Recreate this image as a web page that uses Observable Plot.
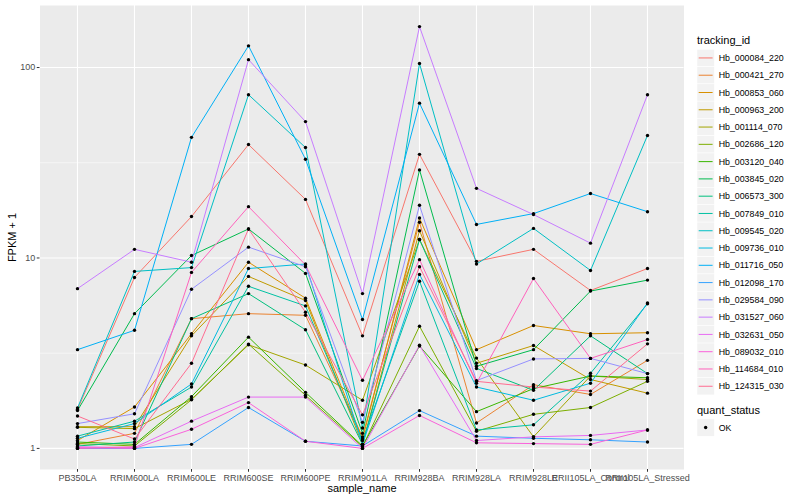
<!DOCTYPE html>
<html>
<head>
<meta charset="utf-8">
<script src="https://cdn.jsdelivr.net/npm/d3@7"></script>
<script src="https://cdn.jsdelivr.net/npm/@observablehq/plot@0.6"></script>
<style>
  html, body { margin: 0; padding: 0; background: white; }
  #wrap { position: relative; width: 800px; height: 500px; font-family: "Liberation Sans", Arial, sans-serif; }
  #chart { position: absolute; left: 0; top: 0; }
  #legend { position: absolute; left: 0; top: 0; }
</style>
</head>
<body>
<div id="wrap"><div id="chart"></div><svg id="legend" width="800" height="500"></svg></div>
<script>
const samples = ["PB350LA","RRIM600LA","RRIM600LE","RRIM600SE","RRIM600PE","RRIM901LA","RRIM928BA","RRIM928LA","RRIM928LE","RRII105LA_Control","RRII105LA_Stressed"];

const trackingIds = ["Hb_000084_220","Hb_000421_270","Hb_000853_060","Hb_000963_200","Hb_001114_070","Hb_002686_120","Hb_003120_040","Hb_003845_020","Hb_006573_300","Hb_007849_010","Hb_009545_020","Hb_009736_010","Hb_011716_050","Hb_012098_170","Hb_029584_090","Hb_031527_060","Hb_032631_050","Hb_089032_010","Hb_114684_010","Hb_124315_030"];

const colors = ["#F8766D","#EA8331","#D89000","#C09B00","#A3A500","#7CAE00","#39B600","#00BB4E","#00BF7D","#00C1A3","#00BFC4","#00BAE0","#00B0F6","#35A2FF","#9590FF","#C77CFF","#E76BF3","#FA62DB","#FF62BC","#FF6C91"];

// FPKM + 1 per tracking id, one value per sample (order of `samples`)
const v_000084_220 = [1.6, 7.9, 16.5, 39.4, 20.3, 3.9, 35, 9.6, 11.1, 6.75, 8.8];
const v_000421_270 = [1.05, 1.2, 4.8, 5.1, 5.0, 1.15, 15.4, 1.36, 2.16, 1.92, 2.9];
const v_000853_060 = [1.1, 1.65, 4.0, 9.5, 6.15, 1.12, 16.2, 3.3, 4.42, 4.0, 4.05];
const v_000963_200 = [1.3, 1.3, 3.9, 8.0, 5.98, 1.05, 13.9, 2.8, 3.47, 2.3, 1.95];
const v_001114_070 = [1.29, 1.27, 1.81, 3.5, 2.74, 1.79, 12.5, 2.98, 1.15, 2.4, 2.3];
const v_002686_120 = [1.06, 1.03, 1.8, 3.53, 1.9, 1.02, 4.38, 1.23, 1.51, 1.64, 2.25];
const v_003120_040 = [1.08, 1.05, 1.87, 3.84, 1.97, 1.03, 3.45, 1.56, 2.06, 2.4, 2.35];
const v_003845_020 = [1.58, 5.1, 10.3, 14.2, 8.3, 1.2, 29, 2.7, 3.3, 6.7, 7.65];
const v_006573_300 = [1.03, 1.08, 4.8, 6.5, 4.2, 1.05, 12.5, 2.63, 2.02, 3.9, 2.47];
const v_007849_010 = [1.16, 1.39, 2.10, 7.1, 5.6, 1.1, 7.55, 1.25, 1.33, 2.48, 5.75];
const v_009545_020 = [1.63, 8.5, 8.9, 72, 38, 1.28, 105, 9.3, 14.3, 8.6, 44];
const v_009736_010 = [1.13, 1.35, 2.18, 8.8, 9.3, 1.05, 8.2, 2.1, 1.79, 2.2, 5.8];
const v_011716_050 = [3.3, 4.17, 43, 130, 33, 4.75, 65, 15, 17.1, 21.8, 17.5];
const v_012098_170 = [1.0, 1.0, 1.05, 1.64, 1.09, 1.03, 1.58, 1.16, 1.13, 1.11, 1.08];
const v_029584_090 = [1.35, 1.52, 6.85, 11.4, 9.0, 1.37, 18.9, 2.27, 2.95, 2.97, 2.47];
const v_031527_060 = [6.9, 11.1, 9.5, 110, 52, 6.5, 164, 23.2, 16.9, 11.96, 72];
const v_032631_050 = [1.02, 1.01, 1.39, 1.86, 1.86, 1.0, 3.48, 1.1, 1.15, 1.17, 1.25];
const v_089032_010 = [1.01, 1.0, 1.26, 1.74, 1.09, 1.0, 1.49, 1.07, 1.06, 1.05, 1.25];
const v_114684_010 = [1.0, 1.02, 8.4, 18.6, 9.2, 2.28, 9.8, 2.2, 7.8, 2.97, 3.73];
const v_124315_030 = [1.48, 1.12, 2.8, 14.2, 5.19, 1.5, 9.0, 2.25, 2.1, 2.0, 3.54];

const seriesValues = [v_000084_220, v_000421_270, v_000853_060, v_000963_200, v_001114_070, v_002686_120, v_003120_040, v_003845_020, v_006573_300, v_007849_010, v_009545_020, v_009736_010, v_011716_050, v_012098_170, v_029584_090, v_031527_060, v_032631_050, v_089032_010, v_114684_010, v_124315_030];

const yTicks = [1, 10, 100];
const yMinor = [Math.sqrt(10), Math.sqrt(1000)];
const quantStatus = ["OK"];

const data = [];
trackingIds.forEach((id, i) => seriesValues[i].forEach((v, j) => data.push({tracking_id: id, sample_name: samples[j], fpkm: v, quant_status: "OK"})));

const font = '"Liberation Sans", Arial, sans-serif';

const chart = Plot.plot({
  width: 690, height: 500,
  marginLeft: 39.5, marginRight: 6.5, marginTop: 5, marginBottom: 31,
  style: {fontFamily: font, fontSize: "9px", background: "transparent", overflow: "visible"},
  x: {type: "point", domain: samples, padding: 0.6},
  y: {type: "log", domain: [0.7749, 211.7]},
  color: {domain: trackingIds, range: colors},
  marks: [
    Plot.frame({fill: "#EBEBEB", stroke: "none"}),
    Plot.gridY(yMinor, {stroke: "white", strokeOpacity: 1, strokeWidth: 0.55}),
    Plot.gridY(yTicks, {stroke: "white", strokeOpacity: 1, strokeWidth: 1.1}),
    Plot.gridX(samples, {stroke: "white", strokeOpacity: 1, strokeWidth: 1.1}),
    Plot.line(data, {x: "sample_name", y: "fpkm", z: "tracking_id", stroke: "tracking_id", strokeWidth: 1}),
    Plot.dot(data, {x: "sample_name", y: "fpkm", r: 1.7, fill: "black", stroke: "none"}),
    Plot.axisX(samples, {tickSize: 2.75, tickPadding: 2, stroke: "#333333", fill: "#4D4D4D", fontSize: 9, label: null}),
    Plot.axisY(yTicks, {tickSize: 2.75, tickPadding: 2, stroke: "#333333", fill: "#4D4D4D", fontSize: 9, tickFormat: d => String(d), label: null}),
    Plot.text(["FPKM + 1"], {text: d => d, frameAnchor: "left", dx: -28, rotate: -90, fontSize: 11, fill: "black", textAnchor: "middle"}),
    Plot.text(["sample_name"], {text: d => d, frameAnchor: "bottom", dy: 19, fontSize: 11, fill: "black", lineAnchor: "middle"})
  ]
});
document.getElementById("chart").appendChild(chart);

// Legend (built from the same ids/colors)
const lg = d3.select("#legend").style("font-family", font);
const lx = 697, keyW = 17.3, keyH = 17.28, firstTop = 49.3;
lg.append("text").attr("x", lx).attr("y", 44).attr("font-size", 11).attr("fill", "black").text("tracking_id");
trackingIds.forEach((id, i) => {
  const top = firstTop + i * keyH;
  lg.append("rect").attr("x", lx).attr("y", top).attr("width", keyW).attr("height", keyH).attr("fill", "#F2F2F2").attr("stroke", "white").attr("stroke-width", 0.5);
  lg.append("line").attr("x1", lx + 1.7).attr("x2", lx + keyW - 1.7).attr("y1", top + keyH / 2).attr("y2", top + keyH / 2).attr("stroke", colors[i]).attr("stroke-width", 1);
  lg.append("text").attr("x", lx + keyW + 4.4).attr("y", top + keyH / 2).attr("dy", "0.35em").attr("font-size", 8.8).attr("fill", "black").text(id);
});
const qTop = firstTop + trackingIds.length * keyH + 11;
lg.append("text").attr("x", lx).attr("y", qTop + 8).attr("font-size", 11).attr("fill", "black").text("quant_status");
quantStatus.forEach((s, i) => {
  const top = qTop + 13 + i * keyH;
  lg.append("rect").attr("x", lx).attr("y", top).attr("width", keyW).attr("height", keyH).attr("fill", "#F2F2F2").attr("stroke", "white").attr("stroke-width", 0.5);
  lg.append("circle").attr("cx", lx + keyW / 2).attr("cy", top + keyH / 2).attr("r", 1.7).attr("fill", "black");
  lg.append("text").attr("x", lx + keyW + 4.4).attr("y", top + keyH / 2).attr("dy", "0.35em").attr("font-size", 8.8).attr("fill", "black").text(s);
});
</script>
</body>
</html>
